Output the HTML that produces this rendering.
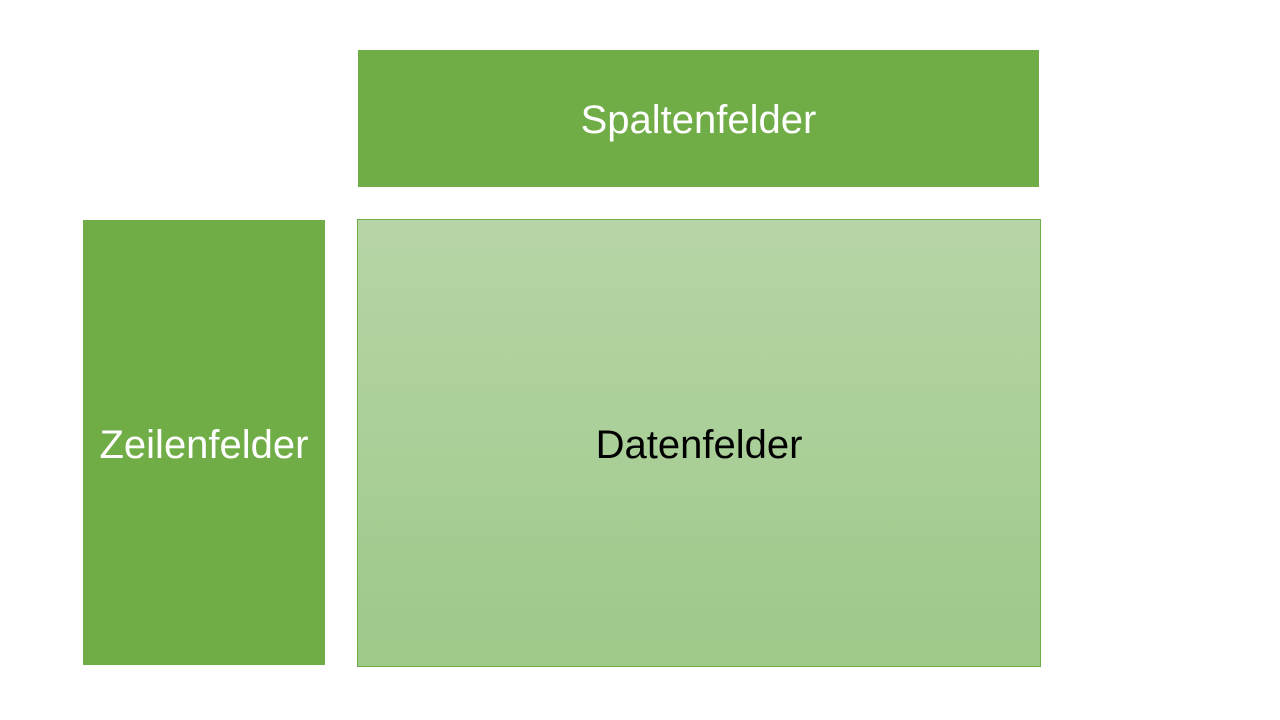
<!DOCTYPE html>
<html><head><meta charset="utf-8"><style>
html,body{margin:0;padding:0;background:#fff;width:1280px;height:720px;overflow:hidden;font-family:"Liberation Sans",sans-serif}
.b{position:absolute;display:flex;align-items:center;justify-content:center;box-sizing:border-box}
</style></head><body>
<div class="b" style="left:358px;top:50px;width:681px;height:137px;background:#70ad47;color:#fff;font-size:40px;padding-top:4px">Spaltenfelder</div>
<div class="b" style="left:83px;top:220px;width:242px;height:445px;background:#70ad47;color:#fff;font-size:40px;padding-top:5px">Zeilenfelder</div>
<div class="b" style="left:357px;top:219px;width:684px;height:448px;background:linear-gradient(#b7d5a7,#9dc989);border:1px solid #70ad47;color:#000;font-size:40px;padding-top:5px">Datenfelder</div>
</body></html>
